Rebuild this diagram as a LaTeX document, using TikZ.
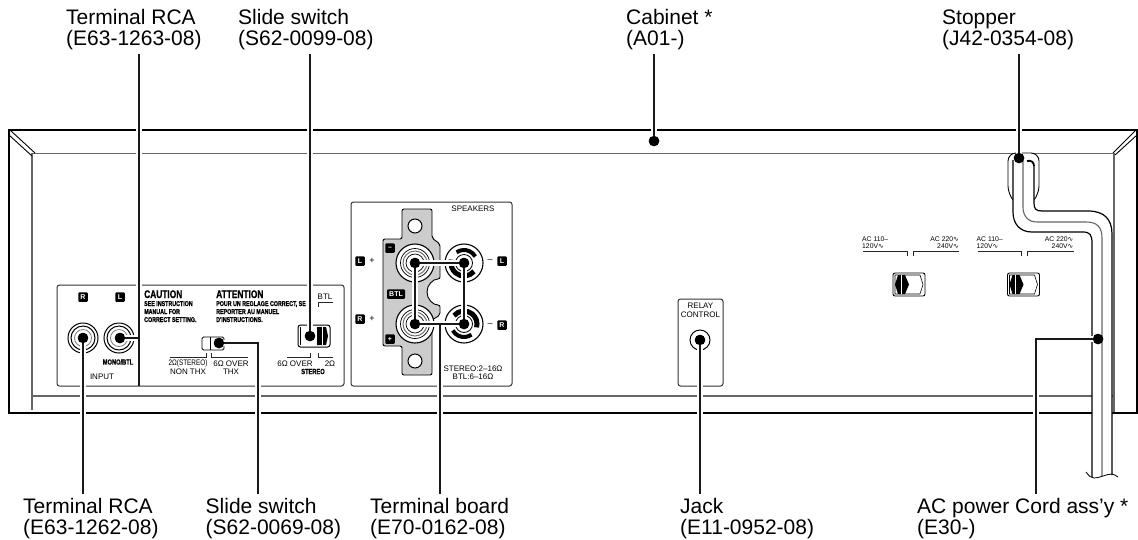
\documentclass[tikz,border=0pt]{standalone}
\usepackage{fontspec}
\usepackage{graphicx}
\setmainfont{Liberation Sans}
\newfontfamily\djv{DejaVu Sans}
\newfontfamily\heavyf[FakeBold=1.2]{Liberation Sans Bold}
\newcommand{\acs}{{\djv\char"223F}}
\newcommand{\hv}[1]{\scalebox{.76}[1]{#1}}
\newcommand{\hw}[1]{\scalebox{.8}[1]{#1}}
\tikzset{
  lab/.style={anchor=base west,inner sep=0pt,font=\fontsize{21}{21}\selectfont},
  tiny/.style={inner sep=0pt,font=\fontsize{8}{8}\selectfont},
  tinyb/.style={inner sep=0pt,font=\fontsize{8}{8}\selectfont\bfseries},
  volt/.style={inner sep=0pt,font=\fontsize{6.8}{7}\selectfont},
  heavy/.style={inner sep=0pt,anchor=base west,font=\fontsize{7}{7}\selectfont\heavyf},
  heavyb/.style={inner sep=0pt,anchor=base west,font=\fontsize{11}{11}\selectfont\heavyf},
  outerline/.style={line width=2pt,black},
  innerline/.style={line width=1.4pt,black!60},
  panel/.style={draw=black!80,line width=1pt,rounded corners=2.5pt,fill=white},
  tick/.style={line width=.9pt,black!85},
  leaderhalo/.style={line width=5.5pt,white},
  leader/.style={line width=1.3pt,black!90},
  spot/.style={circle,fill=black,inner sep=0pt,minimum size=10.5pt},
  sq/.style={rounded corners=1pt,fill=black,text=white,inner sep=0pt,minimum width=9.5pt,minimum height=9.5pt,font=\fontsize{7}{7}\selectfont\bfseries},
}
\newcommand{\redterm}[2]{%
  \draw[fill=white,line width=1.1pt] (#1,#2) circle[radius=19];
  \draw[line width=.7pt] (#1,#2) circle[radius=14.5];
  \draw[line width=1pt,black!55] (#1,#2) circle[radius=12];
  \draw[line width=.7pt] (#1,#2) circle[radius=9];}
\newcommand{\blkterm}[3]{%
  \draw[fill=white,line width=1.1pt] (#1,#2) circle[radius=19];
  \begin{scope}[shift={(#1,#2)},rotate=#3]
  \draw[line width=5pt] (40:13) arc[start angle=40,end angle=195,radius=13];
  \draw[line width=4pt] (235:13) arc[start angle=235,end angle=330,radius=13];
  \end{scope}
  \draw[line width=.8pt] (#1,#2) circle[radius=8.5];}
\newcommand{\voltsel}[1]{%
  \begin{scope}[shift={(#1,0)}]
  \draw[rounded corners=2pt,line width=.9pt,fill=white] (893,273) rectangle (925,296);
  \draw[line width=.6pt] (895,275) -- (920,275) -- (923,284.5) -- (920,294) -- (895,294) -- cycle;
  \fill (898,275) -- (905,275) -- (909,284.5) -- (905,294) -- (898,294) -- (895,284.5) -- cycle;
  \draw[white,line width=1pt] (901,275) -- (901,294);
  \node[volt,anchor=west] at (862,239) {AC 110–};
  \node[volt,anchor=west] at (862,246.5) {120V\acs};
  \node[volt,anchor=east] at (959,239) {AC 220\acs};
  \node[volt,anchor=east] at (959,246.5) {240V\acs};
  \draw[tick] (863,251) -- (907,251) -- (907,256);
  \draw[tick] (959,251) -- (913,251) -- (913,256);
  \end{scope}}
\begin{document}
\begin{tikzpicture}[x=1pt,y=-1pt]
\useasboundingbox (0,0) rectangle (1138,539);
\fill[white] (0,0) rectangle (1138,539);
% cabinet
\draw[innerline] (32,410) -- (32,153.5) -- (1114,153.5) -- (1114,412);
\draw[innerline] (32,396) -- (1114,396);
\draw[line width=.9pt] (10,130) -- (35,153);
\draw[line width=.9pt] (9,135) -- (32,156);
\draw[line width=.9pt] (1136,130) -- (1113,153);
\draw[line width=.9pt] (1137,135) -- (1115,155);
\draw[outerline] (9,413) -- (9,129.5) -- (1137,129.5) -- (1137,413) -- cycle;
% input panel
\draw[panel] (57,285) rectangle (344,386);
\node[sq] (sqR) at (83,297) {R};
\node[sq] (sqL) at (120,297) {L};
\foreach \x in {83,119}{
  \draw[line width=1pt,fill=white] (\x,338) circle[radius=15];
  \draw[line width=1pt] (\x,338) circle[radius=12];
  \draw[line width=.8pt,black!50] (\x,338) circle[radius=8.5];
}
\node[inner sep=0pt,font=\fontsize{7.5}{8}\selectfont\heavyf] (mono) at (118,362) {\hv{MONO/BTL}};
\node[tiny] (inputlab) at (102,377) {INPUT};
\node[heavyb] (caut) at (144,298) {\hv{CAUTION}};
\node[heavy] (c1) at (144,306) {\hv{SEE INSTRUCTION}};
\node[heavy] (c2) at (144,314) {\hv{MANUAL FOR}};
\node[heavy] (c3) at (144,322) {\hv{CORRECT SETTING.}};
\node[heavyb] (att) at (216,298) {\hv{ATTENTION}};
\node[heavy] (a1) at (216,306) {\hv{POUR UN REGLAGE CORRECT, SE}};
\node[heavy] (a2) at (216,314) {\hv{REPORTER AU MANUEL}};
\node[heavy] (a3) at (216,322) {\hv{D\char39 INSTRUCTIONS.}};
% small slide switch
\draw[rounded corners=1.5pt,line width=.9pt,fill=white] (202,337) rectangle (224,350);
\draw[line width=.6pt] (210,337) -- (210,350);
\draw[tick] (170,357) -- (206,357) -- (206,353);
\draw[tick] (248,357) -- (211,357) -- (211,353);
\node[tiny] (s1) at (188,363.5) {\hw{2Ω(STEREO)}};
\node[tiny] (s2) at (188,371.5) {NON THX};
\node[tiny] (s3) at (231,363.5) {6Ω OVER};
\node[tiny] (s4) at (231,371.5) {THX};
% BTL slide switch
\draw[rounded corners=2.5pt,line width=1pt,fill=white] (298,325) rectangle (330,347);
\fill (317,327) -- (326,327) -- (328,336) -- (326,345) -- (317,345) -- cycle;
\draw[white,line width=.8pt] (322,327) -- (322,345);
\draw[line width=.6pt] (300,327) -- (300,345);
\node[tiny] (btl) at (325,297) {BTL};
\draw[tick] (333,302) -- (318,302) -- (318,307);
\draw[tick] (287,357) -- (310,357) -- (310,353);
\draw[tick] (333,357) -- (318,357) -- (318,353);
\node[tiny] (s5) at (295,363.5) {6Ω OVER};
\node[tiny] (s6) at (330,363.5) {2Ω};
\node[inner sep=0pt,font=\fontsize{7.5}{8}\selectfont\heavyf] (s7) at (313,371.5) {\hv{STEREO}};
% speakers panel
\draw[panel] (351,202) rectangle (512,386);
\fill[black!20,draw=black,line width=.9pt,rounded corners=2pt]
  (402,209) -- (432,209) -- (432,238) -- (440,244) -- (440,279)
  arc[start angle=-90,end angle=-270,radius=13] -- (440,315) -- (432,320) -- (432,375) -- (402,375) -- (402,346)
  -- (383,346) -- (383,239) -- (402,239) -- cycle;
\foreach \y in {226,361}{\draw[fill=white,line width=1pt] (415,\y) circle[radius=7];}
\redterm{415}{263}
\redterm{415}{324}
\blkterm{464}{263}{0}
\blkterm{464}{324}{180}
\node[tiny] (spk) at (473,209) {SPEAKERS};
\node[tiny] (st1) at (473,369) {STEREO:2–16Ω};
\node[tiny] (st2) at (473,376.5) {BTL:6–16Ω};
\node[sq] (lsq) at (360,261) {L};
\node[inner sep=0pt,font=\fontsize{9}{9}\selectfont] (lp) at (372,261) {+};
\node[sq] (rsq) at (360,319) {R};
\node[inner sep=0pt,font=\fontsize{9}{9}\selectfont] (rp) at (372,319) {+};
\node[inner sep=0pt,font=\fontsize{9}{9}\selectfont] (lm) at (490,261) {–};
\node[sq] (lsq2) at (502,261) {L};
\node[inner sep=0pt,font=\fontsize{9}{9}\selectfont] (rm) at (490,325) {–};
\node[sq] (rsq2) at (502,325) {R};
\node[sq] (msq) at (390,248) {–};
\node[sq] (psq) at (390,339) {+};
\node[sq,minimum width=18pt] (btlsq) at (396,294) {BTL};
% relay panel
\draw[panel] (678,299) rectangle (723,386);
\node[tiny] (re1) at (700.5,306) {RELAY};
\node[tiny] (re2) at (700.5,314.5) {CONTROL};
\draw[line width=1pt] (700,340) circle[radius=10];
% voltage selectors
\voltsel{0}
\voltsel{114.5}
% stopper and cord
\draw[rounded corners=8pt,line width=.9pt,fill=white] (1013,200) -- (1008,194) -- (1008,153) -- (1039,153) -- (1039,194) -- (1034,200);
\fill[white] (1013,160) -- (1034,160) -- (1034,203)
  .. controls (1034,209) and (1036,211) .. (1042,211) -- (1088,211)
  .. controls (1104,211) and (1112,219) .. (1112,234) -- (1112,477) -- (1092,477) -- (1092,243)
  .. controls (1092,235) and (1090,232) .. (1083,232) -- (1032,232)
  .. controls (1020,232) and (1013,224) .. (1013,212) -- cycle;
\draw[line width=1.2pt] (1013,160) -- (1013,212)
  .. controls (1013,224) and (1020,232) .. (1032,232) -- (1083,232)
  .. controls (1090,232) and (1092,235) .. (1092,243) -- (1092,477);
\draw[line width=1.2pt] (1034,166) -- (1034,203)
  .. controls (1034,209) and (1036,211) .. (1042,211) -- (1088,211)
  .. controls (1104,211) and (1112,219) .. (1112,234) -- (1112,475);
\draw[line width=1.1pt,black!60] (1023,160) -- (1023,207)
  .. controls (1023,216) and (1028,222) .. (1037,222) -- (1086,222)
  .. controls (1097,222) and (1102,227) .. (1102,238) -- (1102,476);
\draw[line width=1.8pt] (1027,161) .. controls (1031,160) and (1034,162) .. (1034,166);
\draw[line width=.8pt] (1086,472) .. controls (1089,476) and (1091,478) .. (1094,478)
  .. controls (1100,478) and (1106,474) .. (1112,474) .. controls (1114,474) and (1116,476) .. (1118,477);
% leaders and their spots
\node[spot] (dcab) at (654,141) {};
\node[spot] (dstop) at (1019,158) {};
\node[spot] (dbtl) at (310,336) {};
\node[spot] (dl) at (120,338) {};
\node[spot] (dr) at (83,338) {};
\node[spot] (dsw) at (219,343) {};
\node[spot] (dlp) at (415,263) {};
\node[spot] (dlm) at (464,263) {};
\node[spot] (drm) at (464,324) {};
\node[spot] (drp) at (415,324) {};
\node[spot] (djack) at (700,340) {};
\node[spot] (dcord) at (1098,339) {};
\coordinate (tcab) at (654,54);
\coordinate (tstop) at (1019,54);
\coordinate (tbtl) at (310,54);
\coordinate (tl) at (139,54);
\coordinate (kl) at (139,338);
\coordinate (kb) at (139,386);
\coordinate (br) at (83,494);
\coordinate (bsw) at (258,494);
\coordinate (ksw) at (258,343);
\coordinate (bbd) at (440,494);
\coordinate (kbd) at (440,324);
\coordinate (bjack) at (700,494);
\coordinate (bcord) at (1036,494);
\coordinate (kcord) at (1036,339);
\foreach \s in {leaderhalo,leader}{
  \draw[\s] (tcab) -- (dcab.center);
  \draw[\s] (tstop) -- (dstop.center);
  \draw[\s] (tbtl) -- (dbtl.center);
  \draw[\s] (tl) -- (kl) -- (dl.center);
  \draw[\s] (br) -- (dr.center);
  \draw[\s] (bsw) -- (ksw) -- (dsw.center);
  \draw[\s] (dlp.center) -- (dlm.center) -- (drm.center) -- (drp.center) -- cycle;
  \draw[\s] (bbd) -- (kbd);
  \draw[\s] (bjack) -- (djack.center);
  \draw[\s] (bcord) -- (kcord) -- (dcord.center);
}
\draw[leader] (kl) -- (kb);
\foreach \n in {dcab,dstop,dbtl,dl,dr,dsw,dlp,dlm,drm,drp,djack,dcord}{\fill (\n) circle[radius=5.2];}
% labels
\node[lab] (t1a) at (66,24) {Terminal RCA};
\node[lab] (t1b) at (66,45.5) {(E63-1263-08)};
\node[lab] (t2a) at (238,24) {Slide switch};
\node[lab] (t2b) at (238,45.5) {(S62-0099-08)};
\node[lab] (t3a) at (626,24) {Cabinet *};
\node[lab] (t3b) at (626,45.5) {(A01-)};
\node[lab] (t4a) at (942,24) {Stopper};
\node[lab] (t4b) at (942,45.5) {(J42-0354-08)};
\node[lab] (b1a) at (23,513) {Terminal RCA};
\node[lab] (b1b) at (23,534.5) {(E63-1262-08)};
\node[lab] (b2a) at (205.5,513) {Slide switch};
\node[lab] (b2b) at (205.5,534.5) {(S62-0069-08)};
\node[lab] (b3a) at (370,513) {Terminal board};
\node[lab] (b3b) at (370,534.5) {(E70-0162-08)};
\node[lab] (b4a) at (680,513) {Jack};
\node[lab] (b4b) at (680,534.5) {(E11-0952-08)};
\node[lab] (b5a) at (917,513) {AC power Cord ass\char39 y *};
\node[lab] (b5b) at (917,534.5) {(E30-)};
\end{tikzpicture}
\end{document}
